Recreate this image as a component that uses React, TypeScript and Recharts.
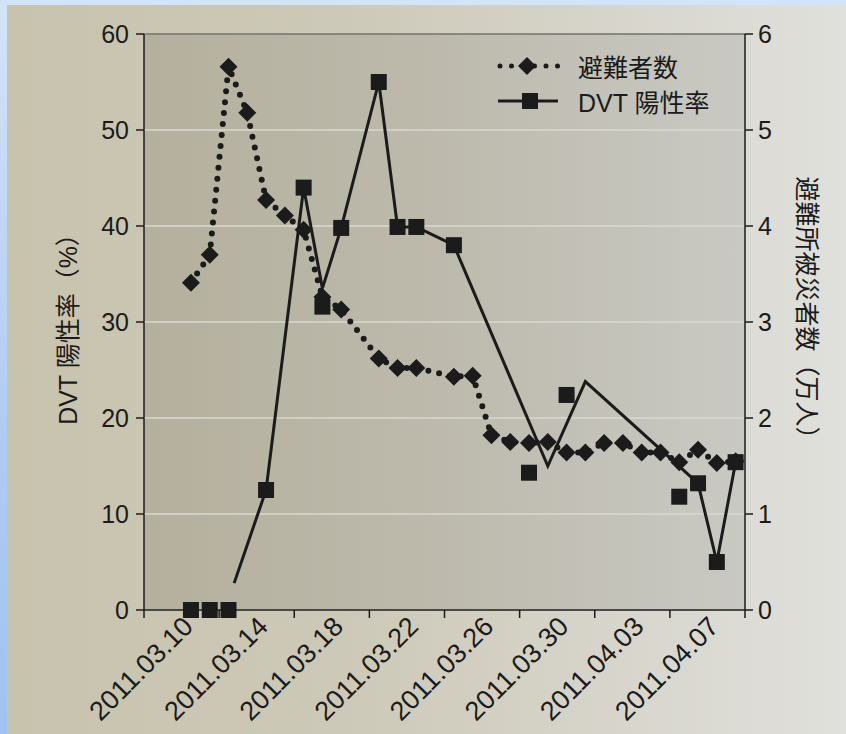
import { LineChart, Line, XAxis, YAxis, CartesianGrid, ReferenceLine, Legend } from 'recharts'

// day number counted from 2011.03.10 (0 = left end of the axis); every point sits in the middle of its day
const evacDays = [2, 3, 4, 5, 6, 7, 8, 9, 10, 12, 13, 14, 16, 17, 18, 19, 20, 21, 22, 23, 24, 25, 26, 27, 28, 29, 30, 31]
// 避難所被災者数 (万人)
const evacuees = [3.41, 3.7, 5.66, 5.18, 4.27, 4.11, 3.96, 3.26, 3.13, 2.62, 2.52, 2.52, 2.43, 2.44, 1.82, 1.75, 1.74, 1.75, 1.64, 1.64, 1.74, 1.74, 1.64, 1.64, 1.54, 1.67, 1.53, 1.55]

// DVT 陽性率 (%) markers
const dvtDays = [2, 3, 4, 6, 8, 9, 10, 12, 13, 14, 16, 20, 22, 28, 29, 30, 31]
const dvtRate = [0, 0, 0, 12.5, 44.0, 31.6, 39.8, 55.0, 39.9, 39.9, 38.0, 14.3, 22.4, 11.8, 13.2, 5.0, 15.4]

// the printed DVT line does not run through every marker, so its path is read separately
const dvtLineDays = [4.3, 6, 8, 9, 10, 12, 13, 14, 16, 21, 23, 29, 30, 31]
const dvtLineRate = [2.8, 12.5, 44.0, 33.5, 39.8, 55.0, 39.9, 39.9, 38.0, 15.0, 23.8, 13.2, 5.0, 15.4]

const dateLabels = ['2011.03.10', '2011.03.14', '2011.03.18', '2011.03.22', '2011.03.26', '2011.03.30', '2011.04.03', '2011.04.07']
const leftTicks = [0, 10, 20, 30, 40, 50, 60]
const rightTicks = [0, 1, 2, 3, 4, 5, 6]
const xTicks = [0, 2, 4, 6, 8, 10, 12, 14, 16, 18, 20, 22, 24, 26, 28, 30, 32]

const evacData = evacDays.map((d, i) => ({ x: d + 0.5, v: evacuees[i] }))
const dvtData = dvtDays.map((d, i) => ({ x: d + 0.5, v: dvtRate[i] }))
const dvtLineData = dvtLineDays.map((d, i) => ({ x: d + 0.5, v: dvtLineRate[i] }))

const INK = '#1b1b1b'
const FONT = "'Liberation Sans', 'Noto Sans CJK JP', sans-serif"

function Diamond(props: any) {
  const { cx, cy } = props
  if (cx == null || cy == null) return null
  return <polygon points={`${cx},${cy - 9} ${cx + 9},${cy} ${cx},${cy + 9} ${cx - 9},${cy}`} fill={INK} />
}

function Square(props: any) {
  const { cx, cy } = props
  if (cx == null || cy == null) return null
  return <rect x={cx - 8} y={cy - 8} width={16} height={16} fill={INK} />
}

function DateTick(props: any) {
  const { x, y, payload } = props
  const v = payload.value
  if (v % 4 === 0) {
    return <line x1={x} y1={y} x2={x} y2={y + 8} stroke={INK} strokeWidth={1.5} />
  }
  const label = dateLabels[(v - 2) / 4]
  const ax = x + 13
  const ay = y + 18
  return (
    <text x={ax} y={ay} transform={`rotate(-45 ${ax} ${ay})`} textAnchor="end" fontSize={27} fill={INK} fontFamily={FONT}>
      {label}
    </text>
  )
}

function LeftTitle(props: any) {
  const { viewBox } = props
  const cx = viewBox.x + viewBox.width / 2 - 4
  const cy = viewBox.y + viewBox.height / 2 + 1
  return (
    <text x={cx} y={cy} transform={`rotate(-90 ${cx} ${cy})`} textAnchor="middle" dominantBaseline="central" fontSize={25} fill={INK} fontFamily={FONT}>
      DVT 陽性率（%）
    </text>
  )
}

function RightTitle(props: any) {
  const { viewBox } = props
  const cx = viewBox.x + viewBox.width / 2 + 11
  const cy = viewBox.y + viewBox.height / 2 - 8
  return (
    <text x={cx} y={cy} transform={`rotate(90 ${cx} ${cy})`} textAnchor="middle" dominantBaseline="central" fontSize={25} fill={INK} fontFamily={FONT}>
      避難所被災者数（万人）
    </text>
  )
}

function LegendBox() {
  const row = { display: 'flex', alignItems: 'center', height: 35 } as const
  return (
    <div style={{ fontFamily: FONT, fontSize: 25, color: INK }}>
      <div style={row}>
        <svg width={66} height={24}>
          <line x1={4} y1={12} x2={62} y2={12} stroke={INK} strokeWidth={5} strokeDasharray="0 11.5" strokeLinecap="round" />
          <polygon points="31,3 40,12 31,21 22,12" fill={INK} />
        </svg>
        <span style={{ marginLeft: 16 }}>避難者数</span>
      </div>
      <div style={row}>
        <svg width={66} height={24}>
          <line x1={2} y1={12} x2={62} y2={12} stroke={INK} strokeWidth={3} />
          <rect x={26} y={4} width={16} height={16} fill={INK} />
        </svg>
        <span style={{ marginLeft: 16 }}>DVT 陽性率</span>
      </div>
    </div>
  )
}

export default function App() {
  return (
    <div style={{ position: 'fixed', left: 0, top: 0, width: 846, height: 734, background: 'linear-gradient(180deg, #d4e4f7 0%, #b0cdf2 55%, #9fc3f0 100%)' }}>
      <div style={{ position: 'absolute', left: 7, top: 5, right: 0, bottom: 0, background: 'linear-gradient(90deg, #c8c3ad 0%, #cdc9b8 40%, #d8d6cd 75%, #e0e0dc 100%)' }} />
      <div style={{ position: 'absolute', left: 0, top: 0 }}>
        <LineChart width={846} height={734} margin={{ top: 34, right: 0, bottom: 0, left: 0 }} style={{ fontFamily: FONT }}>
          <defs>
            <linearGradient id="plotFill" x1="0" y1="0" x2="1" y2="0">
              <stop offset="0%" stopColor="#b5b09d" />
              <stop offset="50%" stopColor="#bdbaad" />
              <stop offset="100%" stopColor="#c9c9c3" />
            </linearGradient>
          </defs>
          <CartesianGrid yAxisId="left" vertical={false} fill="url(#plotFill)" stroke="#dad8cf" strokeWidth={1.5} />
          <XAxis
            type="number"
            dataKey="x"
            domain={[0, 32]}
            ticks={xTicks}
            interval={0}
            allowDuplicatedCategory={false}
            tickLine={false}
            tickSize={0}
            tickMargin={0}
            axisLine={{ stroke: INK, strokeWidth: 1.5 }}
            tick={<DateTick />}
            height={124}
          />
          <YAxis
            yAxisId="left"
            domain={[0, 60]}
            ticks={leftTicks}
            width={144}
            tickSize={8}
            tickMargin={7}
            axisLine={{ stroke: INK, strokeWidth: 1.5 }}
            tickLine={{ stroke: INK, strokeWidth: 1.5 }}
            tick={{ fontSize: 25, fill: INK, fontFamily: FONT }}
            label={<LeftTitle />}
          />
          <YAxis
            yAxisId="right"
            orientation="right"
            domain={[0, 6]}
            ticks={rightTicks}
            width={101}
            tickSize={8}
            tickMargin={5}
            axisLine={{ stroke: INK, strokeWidth: 1.5 }}
            tickLine={{ stroke: INK, strokeWidth: 1.5 }}
            tick={{ fontSize: 25, fill: INK, fontFamily: FONT }}
            label={<RightTitle />}
          />
          <ReferenceLine yAxisId="left" y={60} stroke="#3a3a36" strokeWidth={1.2} />
          <Legend layout="vertical" align="center" verticalAlign="middle" wrapperStyle={{ top: 48, left: 496, width: 'auto' }} content={<LegendBox />} />
          <Line
            yAxisId="right"
            data={evacData}
            dataKey="v"
            name="避難者数"
            stroke={INK}
            strokeWidth={6}
            strokeDasharray="0 11"
            strokeLinecap="round"
            dot={<Diamond />}
            activeDot={false}
            isAnimationActive={false}
          />
          <Line
            yAxisId="left"
            data={dvtLineData}
            dataKey="v"
            name="DVT 陽性率 line"
            stroke={INK}
            strokeWidth={3}
            dot={false}
            activeDot={false}
            legendType="none"
            isAnimationActive={false}
          />
          <Line
            yAxisId="left"
            data={dvtData}
            dataKey="v"
            name="DVT 陽性率"
            stroke="none"
            dot={<Square />}
            activeDot={false}
            isAnimationActive={false}
          />
        </LineChart>
      </div>
    </div>
  )
}
